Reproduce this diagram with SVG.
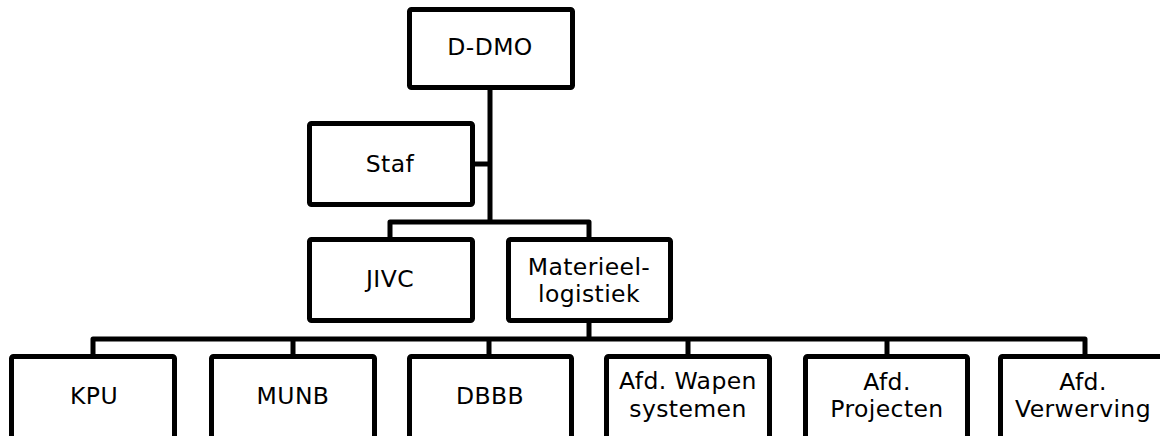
<svg xmlns="http://www.w3.org/2000/svg" width="1160" height="436" viewBox="0 0 1160 436">
<style>
.box{fill:#fff;stroke:#000;stroke-width:5;stroke-linejoin:round}
.ln{fill:none;stroke:#000;stroke-width:5;stroke-linejoin:round;stroke-linecap:butt}
.t{font-family:"DejaVu Sans",Verdana,sans-serif;font-size:23.5px;letter-spacing:0.4px;fill:#000;text-anchor:middle}
</style>
<rect width="1160" height="436" fill="#fff"/>
<g id="connectors">
<path class="ln" d="M490 88V222"/>
<path class="ln" d="M473 164H490"/>
<path class="ln" d="M390 241V222H589V241"/>
<path class="ln" d="M589 320V339"/>
<path class="ln" d="M93 358V339H1085V358"/>
<path class="ln" d="M293 339V358M489 339V358M688 339V358M887 339V358"/>
</g>
<g id="n-ddmo"><rect class="box" x="409.5" y="9.5" width="163" height="78" rx="2"/><text class="t" x="490" y="55">D-DMO</text></g>
<g id="n-staf"><rect class="box" x="309.5" y="123.5" width="163" height="81" rx="2"/><text class="t" x="390" y="172">Staf</text></g>
<g id="n-jivc"><rect class="box" x="309.5" y="239.5" width="163" height="81" rx="2"/><text class="t" x="390" y="287">JIVC</text></g>
<g id="n-materieel"><rect class="box" x="508.5" y="239.5" width="162" height="81" rx="2"/><text class="t" x="589" y="275">Materieel-</text><text class="t" x="589" y="302">logistiek</text></g>
<g id="n-kpu"><rect class="box" x="11.5" y="356.5" width="163" height="100" rx="2"/><text class="t" x="94" y="404">KPU</text></g>
<g id="n-munb"><rect class="box" x="211.5" y="356.5" width="163" height="100" rx="2"/><text class="t" x="293" y="404">MUNB</text></g>
<g id="n-dbbb"><rect class="box" x="409.5" y="356.5" width="162" height="100" rx="2"/><text class="t" x="490" y="404">DBBB</text></g>
<g id="n-wapen"><rect class="box" x="606.5" y="356.5" width="163" height="100" rx="2"/><text class="t" x="688" y="389">Afd. Wapen</text><text class="t" x="688" y="417">systemen</text></g>
<g id="n-projecten"><rect class="box" x="805.5" y="356.5" width="162" height="100" rx="2"/><text class="t" x="887" y="390">Afd.</text><text class="t" x="887" y="417">Projecten</text></g>
<g id="n-verwerving"><rect class="box" x="1000.5" y="356.5" width="165" height="100" rx="2"/><text class="t" x="1083" y="390">Afd.</text><text class="t" x="1083" y="417">Verwerving</text></g>
</svg>
